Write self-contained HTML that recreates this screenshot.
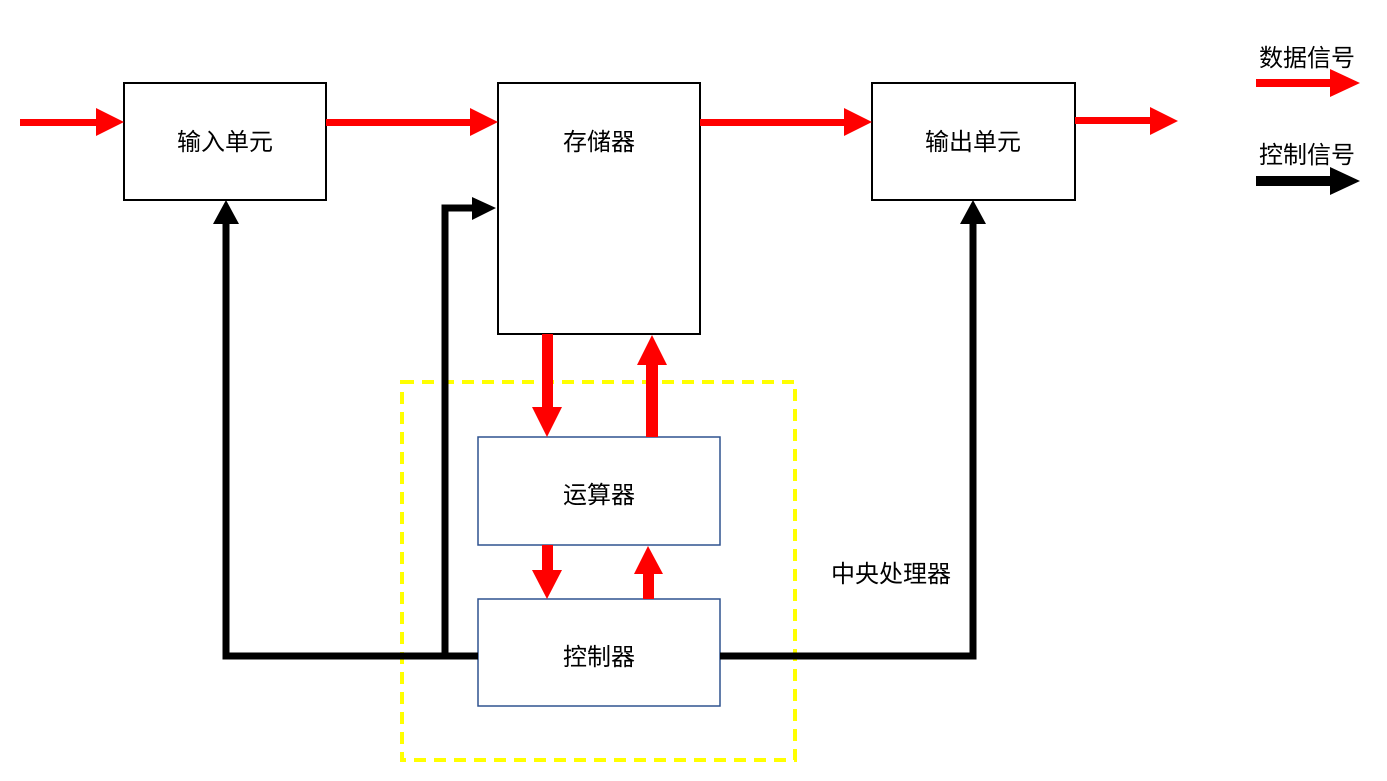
<!DOCTYPE html>
<html><head><meta charset="utf-8"><style>
html,body{margin:0;padding:0;background:#fff;}
svg{display:block;}
text{font-family:"Liberation Sans","Noto Sans CJK SC",sans-serif;fill:#000;}
</style></head><body>
<svg width="1387" height="781" viewBox="0 0 1387 781" xmlns="http://www.w3.org/2000/svg">
<rect x="402" y="382" width="393" height="378" fill="none" stroke="#ffff00" stroke-width="4" stroke-dasharray="12,8"/>
<rect x="124" y="83" width="202" height="117" fill="#fff" stroke="#000" stroke-width="2"/>
<rect x="498" y="83" width="202" height="251" fill="#fff" stroke="#000" stroke-width="2"/>
<rect x="872" y="83" width="203" height="117" fill="#fff" stroke="#000" stroke-width="2"/>
<rect x="478" y="437" width="242" height="108" fill="#fff" stroke="#2F528F" stroke-width="1.5"/>
<rect x="478" y="599" width="242" height="107" fill="#fff" stroke="#2F528F" stroke-width="1.5"/>
<g font-size="24" text-anchor="middle">
<text x="225" y="150">输入单元</text>
<text x="599" y="150">存储器</text>
<text x="973" y="150">输出单元</text>
<text x="599" y="503">运算器</text>
<text x="599" y="665">控制器</text>
<text x="891" y="582">中央处理器</text>
<text x="1307" y="66">数据信号</text>
<text x="1307" y="163">控制信号</text>
</g>
<g fill="#ff0000">
<rect x="20" y="119" width="78" height="7"/><polygon points="96,108 124,122 96,136"/>
<rect x="326" y="119" width="146" height="7"/><polygon points="470,108 498,122 470,136"/>
<rect x="700" y="119" width="146" height="7"/><polygon points="844,108 872,122 844,136"/>
<rect x="1075" y="117" width="77" height="7"/><polygon points="1150,107 1178,121 1150,135"/>
<rect x="1256" y="79" width="78" height="8"/><polygon points="1330,69 1360,83 1330,97"/>
<rect x="542" y="334" width="11" height="75"/><polygon points="532,407 562,407 547,437"/>
<rect x="646" y="364" width="12" height="73"/><polygon points="637,365 667,365 652,335"/>
<rect x="542" y="545" width="11" height="26"/><polygon points="532,570 562,570 547,599"/>
<rect x="643" y="573" width="11" height="26"/><polygon points="634,574 663,574 648,546"/>
</g>
<g fill="none" stroke="#000" stroke-width="7">
<polyline points="478,656 226,656 226,222"/>
<polyline points="445,656 445,208 474,208"/>
<polyline points="720,656 973,656 973,222"/>
<line x1="1256" y1="181" x2="1334" y2="181" stroke-width="10"/>
</g>
<g fill="#000">
<polygon points="213,224 239,224 226,200"/>
<polygon points="472,197 496,208 472,220"/>
<polygon points="960,224 986,224 973,200"/>
<polygon points="1330,167 1360,181 1330,195"/>
</g>
</svg>
</body></html>
